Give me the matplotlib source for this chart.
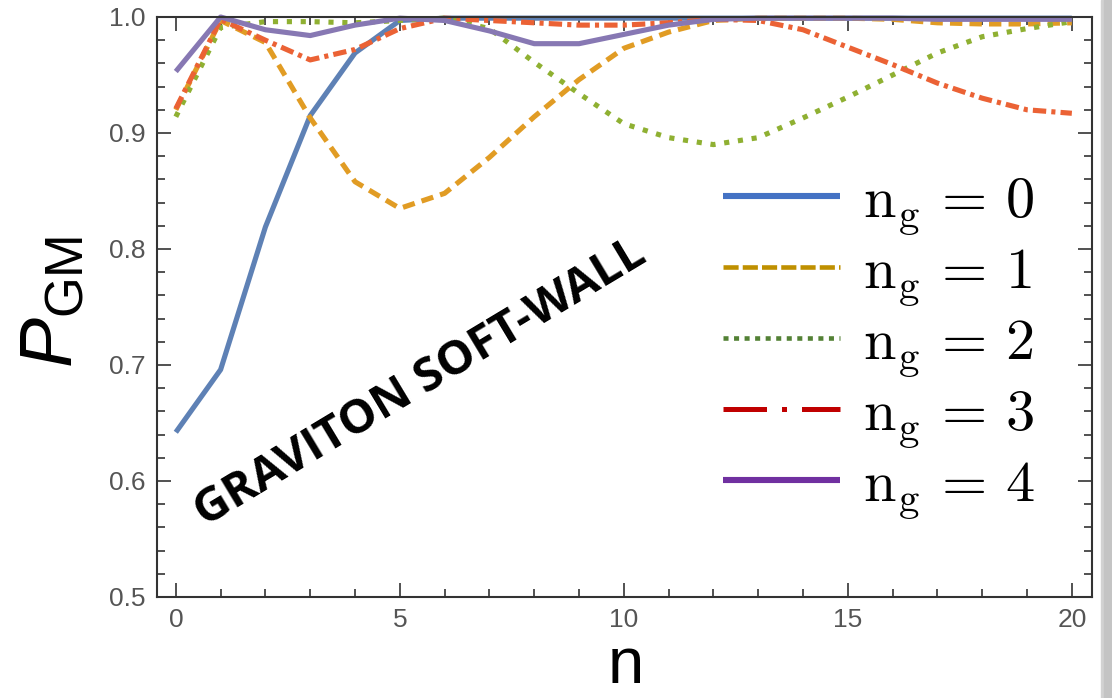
import matplotlib
matplotlib.use("Agg")
import matplotlib.pyplot as plt
from matplotlib.lines import Line2D
from matplotlib.patches import Rectangle
from matplotlib.ticker import MultipleLocator, FuncFormatter

# Level index n
n = list(range(21))

# P_GM for each graviton number n_g
p_ng0 = [0.642, 0.696, 0.819, 0.915, 0.969, 0.997, 0.999, 0.999, 0.999, 0.999, 0.999,
         0.999, 0.999, 0.999, 0.999, 0.999, 0.999, 0.999, 0.999, 0.999, 0.999]
p_ng1 = [0.920, 0.997, 0.978, 0.913, 0.858, 0.835, 0.848, 0.879, 0.914, 0.946, 0.973,
         0.987, 0.997, 0.999, 0.999, 0.999, 0.998, 0.995, 0.994, 0.994, 0.995]
p_ng2 = [0.914, 0.991, 0.996, 0.996, 0.995, 0.997, 0.999, 0.990, 0.961, 0.934, 0.908,
         0.896, 0.890, 0.896, 0.913, 0.931, 0.950, 0.969, 0.983, 0.990, 0.996]
p_ng3 = [0.921, 0.998, 0.980, 0.963, 0.972, 0.990, 0.999, 0.997, 0.995, 0.993, 0.993,
         0.995, 0.998, 0.997, 0.989, 0.974, 0.959, 0.943, 0.930, 0.920, 0.917]
p_ng4 = [0.953, 1.000, 0.989, 0.984, 0.993, 0.999, 0.997, 0.988, 0.977, 0.977, 0.985,
         0.993, 0.998, 0.999, 0.999, 0.999, 0.999, 0.998, 0.998, 0.998, 0.998]

series = [p_ng0, p_ng1, p_ng2, p_ng3, p_ng4]
legend_labels = [r"$\mathrm{n_g}\,=\,0$", r"$\mathrm{n_g}\,=\,1$", r"$\mathrm{n_g}\,=\,2$",
                 r"$\mathrm{n_g}\,=\,3$", r"$\mathrm{n_g}\,=\,4$"]

curve_colors = ["#5E81B5", "#E19C24", "#8FB032", "#EB6235", "#8778B3"]
curve_dashes = [None, (2.4, 1.4), (1.0, 1.7), (2.6, 1.0, 0.8, 1.0), None]
key_colors = ["#4472C4", "#BF9000", "#538135", "#C00000", "#7030A0"]
key_widths = [4.4, 3.3, 3.3, 3.6, 4.4]
key_dashes = [None, (3.3, 0.9), (1.1, 1.2), (8.7, 3.0, 1.0, 3.0), None]

plt.rcParams["mathtext.fontset"] = "custom"
plt.rcParams["mathtext.rm"] = "Liberation Sans"
plt.rcParams["mathtext.it"] = "Liberation Sans:italic"

W, H = 1112, 698
fig = plt.figure(figsize=(W / 100, H / 100), dpi=100)
ax = fig.add_axes([157 / W, 1 - 597 / H, (1092 - 157) / W, (597 - 17) / H])

for vals, col, dsh in zip(series, curve_colors, curve_dashes):
    ln, = ax.plot(n, vals, color=col, lw=3.7, clip_on=False,
                  solid_capstyle="butt", dash_capstyle="butt")
    if dsh is not None:
        ln.set_dashes(dsh)

ax.set_xlim(-0.42, 20.45)
ax.set_ylim(0.5, 1.0)
ax.xaxis.set_major_locator(MultipleLocator(5))
ax.xaxis.set_minor_locator(MultipleLocator(1))
ax.yaxis.set_major_locator(MultipleLocator(0.1))
ax.yaxis.set_minor_locator(MultipleLocator(0.02))
ax.yaxis.set_major_formatter(FuncFormatter(lambda v, p: f"{v:.1f}"))

for side in ax.spines.values():
    side.set_color("#333333")
    side.set_linewidth(1.5)

ax.tick_params(which="both", direction="in", top=True, right=True,
               color="#333333", width=1.2, labelcolor="#555555")
ax.tick_params(which="major", length=10, labelsize=19)
ax.tick_params(which="minor", length=6)
ax.tick_params(axis="y", pad=8)
ax.tick_params(axis="x", pad=8)
for lab in ax.get_xticklabels() + ax.get_yticklabels():
    lab.set_fontfamily("Liberation Sans")

# axis titles
fig.text(624 / W, 1 - 697 / H, r"$\mathrm{n}$", fontsize=47,
         ha="center", va="bottom")
fig.text(51 / W, 1 - 302 / H, r"$\mathit{P}_{\mathrm{GM}}$", fontsize=54,
         rotation=90, ha="center", va="center")

ax.text(5.45, 0.6845, "GRAVITON SOFT-WALL", rotation=31, rotation_mode="anchor",
        ha="center", va="center", fontsize=34, fontweight="bold",
        family=["Open Sans", "DejaVu Sans"], color="black")

handles = []
for col, lw, dsh in zip(key_colors, key_widths, key_dashes):
    h = Line2D([0], [0], color=col, lw=lw, solid_capstyle="butt", dash_capstyle="butt")
    if dsh is not None:
        h.set_dashes(dsh)
    handles.append(h)

leg = ax.legend(handles, legend_labels, loc="center left",
                bbox_to_anchor=((722 - 157) / (1092 - 157) - 0.011, 1 - (346 - 17) / 580),
                fontsize=42, frameon=False, handlelength=2.0, handletextpad=0.4,
                labelspacing=0.1, borderpad=0.2, borderaxespad=0)
for t in leg.get_texts():
    t.set_math_fontfamily("cm")

# soft gray edge at the right border
fig.patches.append(Rectangle((1101 / W, 0), 11 / W, 1, transform=fig.transFigure,
                             color="#d2d2d2", zorder=-1))
fig.patches.append(Rectangle((1104 / W, 0), 8 / W, 1, transform=fig.transFigure,
                             color="#c4c4c4", zorder=-1))

fig.savefig("out.png", dpi=100)
